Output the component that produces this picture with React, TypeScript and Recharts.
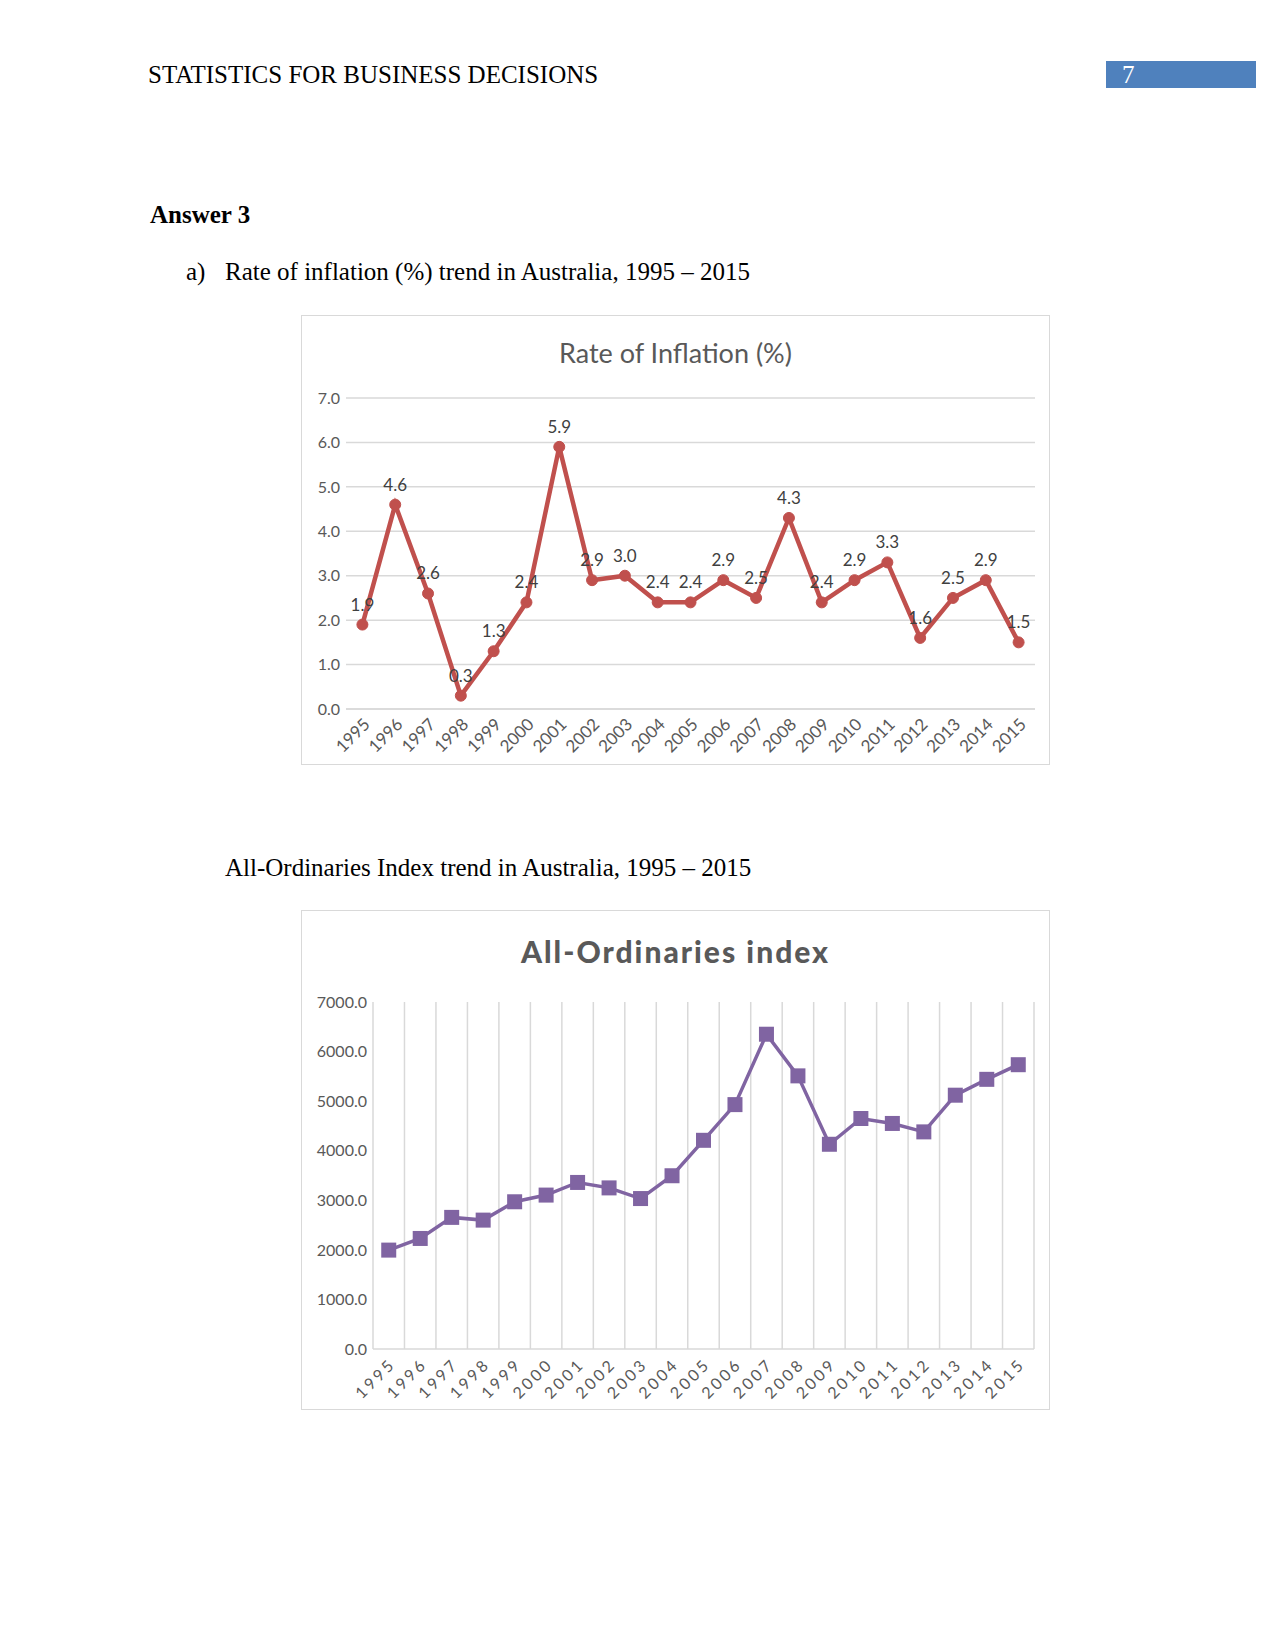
import React from "react";
import { LineChart, Line, XAxis, YAxis, CartesianGrid, LabelList } from "recharts";

const years = [
  "1995", "1996", "1997", "1998", "1999", "2000", "2001", "2002", "2003", "2004", "2005",
  "2006", "2007", "2008", "2009", "2010", "2011", "2012", "2013", "2014", "2015",
];
const inflation = [1.9, 4.6, 2.6, 0.3, 1.3, 2.4, 5.9, 2.9, 3.0, 2.4, 2.4, 2.9, 2.5, 4.3, 2.4, 2.9, 3.3, 1.6, 2.5, 2.9, 1.5];
const allOrds = [
  1995, 2230, 2655, 2600, 2970, 3105, 3360, 3250, 3035, 3495, 4210,
  4930, 6350, 5510, 4130, 4650, 4550, 4380, 5120, 5440, 5735,
];
const inflationTicks = [0, 1, 2, 3, 4, 5, 6, 7];
const indexTicks = [0, 1000, 2000, 3000, 4000, 5000, 6000, 7000];

const inflationData = years.map((year, i) => ({ year, value: inflation[i] }));
const indexData = years.map((year, i) => ({ year, value: allOrds[i] }));

const SERIF = "'Liberation Serif', 'Times New Roman', serif";
const SANS = "Lato, Carlito, 'Open Sans', sans-serif";
const GRID = "#d9d9d9";
const TEXT = "#595959";

const SquareDot = (props: any) => {
  const { cx, cy, index } = props;
  if (cx == null || cy == null) return null;
  return <rect key={`sq-${index}`} x={cx - 7.5} y={cy - 7.5} width={15} height={15} fill="#8064A2" />;
};

// vertical lines between categories, like Excel's "between tick marks"
const bandEdges = ({ offset }: any) =>
  Array.from({ length: years.length + 1 }, (_, i) => offset.left + (i * offset.width) / years.length);

function TextLine({ top, left, children, bold = false }: any) {
  return (
    <div
      style={{
        position: "absolute",
        top,
        left,
        height: 28,
        lineHeight: "28px",
        fontFamily: SERIF,
        fontSize: 25,
        fontWeight: bold ? "bold" : "normal",
        color: "#000",
        whiteSpace: "nowrap",
      }}
    >
      {children}
    </div>
  );
}

export default function App() {
  return (
    <div style={{ position: "absolute", left: 0, top: 0, width: 1275, height: 1651, background: "#fff" }}>
      <TextLine top={61} left={148}>STATISTICS FOR BUSINESS DECISIONS</TextLine>
      <div
        style={{
          position: "absolute",
          left: 1106,
          top: 61,
          width: 150,
          height: 27,
          background: "#4F81BD",
          color: "#fff",
          fontFamily: SERIF,
          fontSize: 25,
          lineHeight: "27px",
          paddingLeft: 16,
          boxSizing: "border-box",
        }}
      >
        7
      </div>

      <TextLine top={201} left={150} bold>
        Answer 3
      </TextLine>
      <TextLine top={258} left={186}>a)</TextLine>
      <TextLine top={258} left={225}>Rate of inflation (%) trend in Australia, 1995 – 2015</TextLine>

      {/* Chart 1 */}
      <div
        style={{
          position: "absolute",
          left: 301,
          top: 315,
          width: 749,
          height: 450,
          border: `1px solid ${GRID}`,
          boxSizing: "border-box",
        }}
      >
        <div
          style={{
            position: "absolute",
            top: 20,
            width: "100%",
            textAlign: "center",
            fontFamily: SANS,
            fontSize: 27,
            color: TEXT,
          }}
        >
          Rate of Inflation (%)
        </div>
        <LineChart
          width={747}
          height={448}
          data={inflationData}
          margin={{ top: 82, right: 14, left: 0, bottom: 0 }}
        >
          <CartesianGrid vertical={false} stroke={GRID} strokeWidth={1.5} />
          <XAxis
            dataKey="year"
            scale="band"
            interval={0}
            angle={-45}
            textAnchor="end"
            height={55}
            axisLine={{ stroke: GRID, strokeWidth: 1.5 }}
            tickLine={false}
            tickMargin={2}
            tick={{ fontSize: 17, fill: TEXT, fontFamily: SANS }}
          />
          <YAxis
            domain={[0, 7]}
            ticks={inflationTicks}
            width={44}
            axisLine={false}
            tickLine={false}
            tickMargin={0}
            tickFormatter={(v: number) => v.toFixed(1)}
            tick={{ fontSize: 16, fill: TEXT, fontFamily: SANS }}
          />
          <Line
            dataKey="value"
            stroke="#C0504D"
            strokeWidth={4.5}
            dot={{ r: 5.5, fill: "#C0504D", stroke: "#C0504D", strokeWidth: 1 }}
            isAnimationActive={false}
          >
            <LabelList
              dataKey="value"
              position="top"
              offset={14}
              formatter={(v: any) => Number(v).toFixed(1)}
              style={{ fontSize: 17, fill: "#404040", fontFamily: SANS }}
            />
          </Line>
        </LineChart>
      </div>

      <TextLine top={854} left={225}>All-Ordinaries Index trend in Australia, 1995 – 2015</TextLine>

      {/* Chart 2 */}
      <div
        style={{
          position: "absolute",
          left: 301,
          top: 910,
          width: 749,
          height: 500,
          border: `1px solid ${GRID}`,
          boxSizing: "border-box",
        }}
      >
        <div
          style={{
            position: "absolute",
            top: 22,
            width: "100%",
            textAlign: "center",
            fontFamily: SANS,
            fontSize: 30,
            fontWeight: 900,
            letterSpacing: 2,
            color: TEXT,
          }}
        >
          All-Ordinaries index
        </div>
        <LineChart
          width={747}
          height={498}
          data={indexData}
          margin={{ top: 91, right: 15, left: 0, bottom: 0 }}
        >
          <CartesianGrid horizontal={false} stroke={GRID} strokeWidth={1.5} verticalCoordinatesGenerator={bandEdges} />
          <XAxis
            dataKey="year"
            scale="band"
            interval={0}
            angle={-45}
            textAnchor="end"
            height={60}
            axisLine={{ stroke: GRID, strokeWidth: 1.5 }}
            tickLine={false}
            tickMargin={2}
            tick={{ fontSize: 16, fill: TEXT, fontFamily: SANS, letterSpacing: 3 }}
          />
          <YAxis
            domain={[0, 7000]}
            ticks={indexTicks}
            width={71}
            axisLine={false}
            tickLine={false}
            tickMargin={0}
            tickFormatter={(v: number) => v.toFixed(1)}
            tick={{ fontSize: 16, fill: TEXT, fontFamily: SANS }}
          />
          <Line
            dataKey="value"
            stroke="#8064A2"
            strokeWidth={3.5}
            dot={SquareDot}
            isAnimationActive={false}
          />
        </LineChart>
      </div>
    </div>
  );
}
